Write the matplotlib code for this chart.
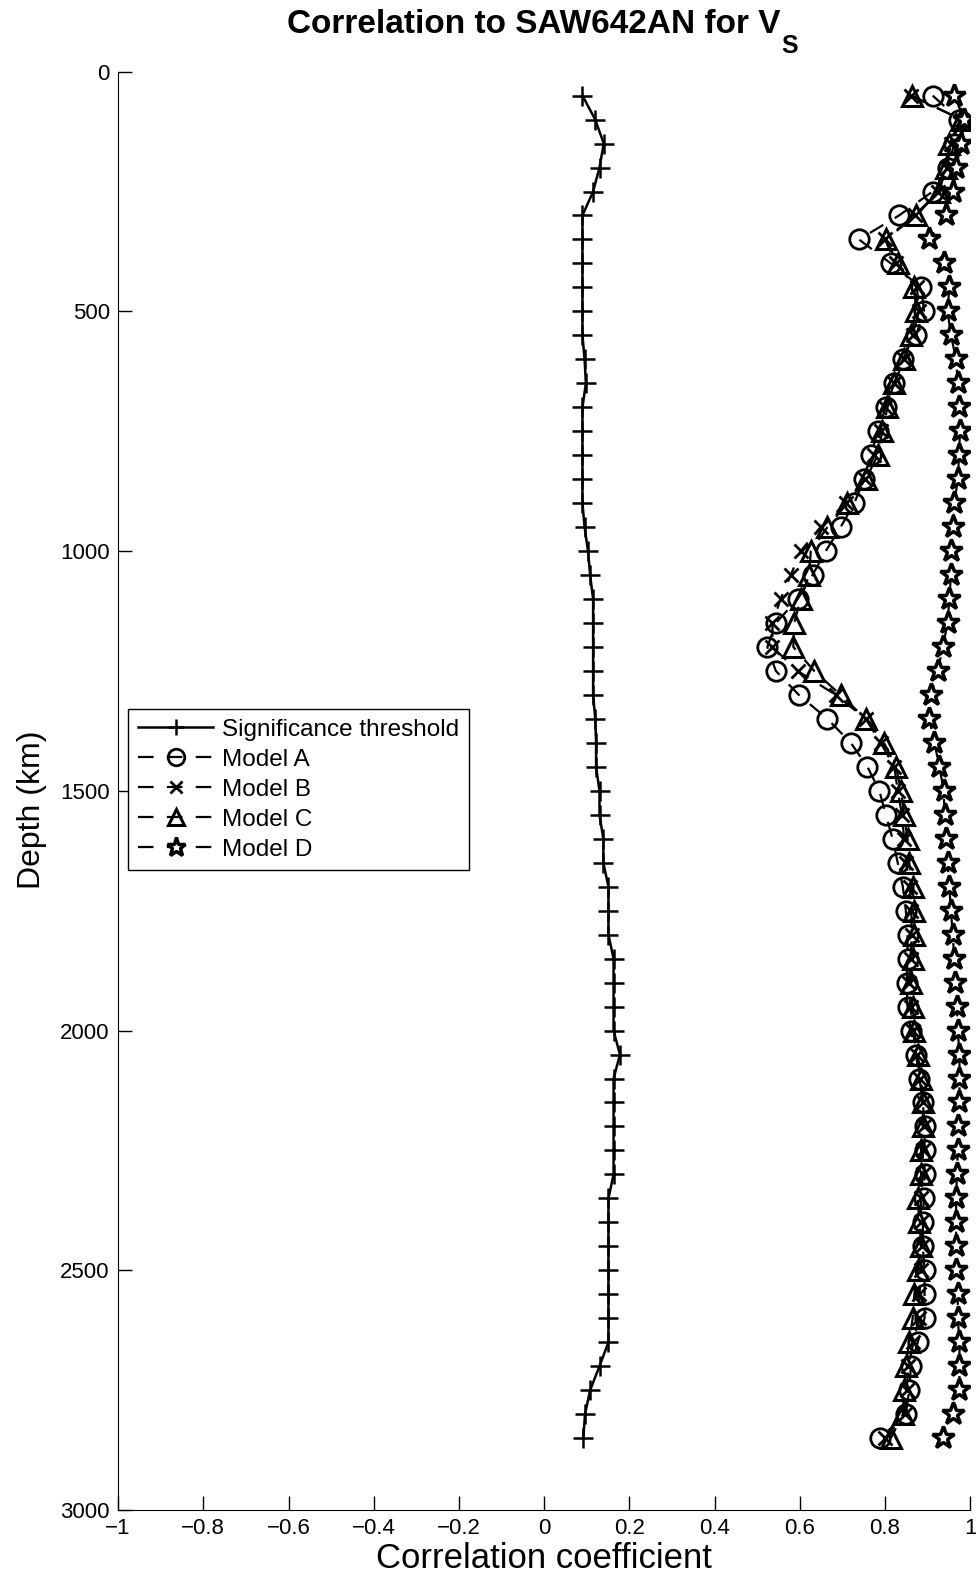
import numpy as np
import matplotlib
matplotlib.use("Agg")
import matplotlib.pyplot as plt

plt.rcParams['font.family'] = ['Liberation Sans', 'DejaVu Sans']

# depth (km) of every sample
depth = list(range(50, 2851, 50))

threshold = [0.09, 0.12, 0.14, 0.13, 0.115, 0.09, 0.09, 0.09, 0.09, 0.09,
             0.09, 0.095, 0.098, 0.09, 0.09, 0.09, 0.09, 0.09, 0.095, 0.103,
             0.108, 0.115, 0.115, 0.115, 0.115, 0.115, 0.12, 0.122, 0.122, 0.13,
             0.13, 0.139, 0.139, 0.151, 0.151, 0.151, 0.163, 0.163, 0.163, 0.163,
             0.178, 0.163, 0.163, 0.163, 0.163, 0.163, 0.151, 0.151, 0.151, 0.151,
             0.151, 0.151, 0.151, 0.13, 0.108, 0.096, 0.092]

model_a = [0.912, 0.975, 0.963, 0.947, 0.912, 0.833, 0.739, 0.814, 0.885, 0.892,
           0.873, 0.842, 0.822, 0.802, 0.783, 0.767, 0.751, 0.728, 0.696, 0.661,
           0.63, 0.595, 0.544, 0.524, 0.544, 0.598, 0.665, 0.72, 0.759, 0.787,
           0.802, 0.818, 0.83, 0.842, 0.849, 0.853, 0.853, 0.851, 0.853, 0.861,
           0.873, 0.881, 0.889, 0.893, 0.893, 0.893, 0.891, 0.889, 0.889, 0.893,
           0.893, 0.893, 0.877, 0.861, 0.857, 0.849, 0.789]

model_b = [0.86, 0.98, 0.955, 0.945, 0.925, 0.87, 0.80, 0.825, 0.875, 0.88,
           0.865, 0.845, 0.822, 0.80, 0.79, 0.775, 0.753, 0.708, 0.649, 0.602,
           0.579, 0.555, 0.536, 0.536, 0.595, 0.685, 0.755, 0.79, 0.822, 0.83,
           0.84, 0.845, 0.85, 0.858, 0.862, 0.863, 0.86, 0.857, 0.86, 0.865,
           0.875, 0.883, 0.889, 0.891, 0.889, 0.889, 0.884, 0.885, 0.887, 0.885,
           0.881, 0.879, 0.867, 0.855, 0.851, 0.846, 0.80]

model_c = [0.863, 0.979, 0.951, 0.944, 0.927, 0.873, 0.802, 0.83, 0.869, 0.873,
           0.861, 0.845, 0.822, 0.806, 0.794, 0.783, 0.755, 0.712, 0.665, 0.626,
           0.622, 0.602, 0.587, 0.585, 0.634, 0.696, 0.755, 0.798, 0.826, 0.838,
           0.845, 0.853, 0.857, 0.865, 0.869, 0.869, 0.865, 0.861, 0.865, 0.869,
           0.877, 0.885, 0.889, 0.889, 0.885, 0.885, 0.877, 0.881, 0.885, 0.877,
           0.869, 0.865, 0.857, 0.849, 0.845, 0.842, 0.814]

model_d = [0.963, 0.986, 0.979, 0.967, 0.959, 0.944, 0.904, 0.939, 0.951, 0.947,
           0.955, 0.967, 0.971, 0.974, 0.976, 0.974, 0.971, 0.963, 0.959, 0.955,
           0.955, 0.951, 0.947, 0.936, 0.924, 0.908, 0.904, 0.916, 0.928, 0.938,
           0.94, 0.944, 0.947, 0.951, 0.955, 0.959, 0.963, 0.965, 0.969, 0.971,
           0.975, 0.975, 0.975, 0.971, 0.971, 0.969, 0.967, 0.967, 0.967, 0.967,
           0.971, 0.971, 0.975, 0.975, 0.975, 0.959, 0.936]

fig = plt.figure(figsize=(9.76, 15.85), dpi=100)
ax = fig.add_axes([0.121, 0.0473, 0.873, 0.9075])

ms = 14
dash = (7, 6)
ax.plot(threshold, depth, '-', color='k', lw=1.8, marker='+', ms=ms, mew=1.8,
        label='Significance threshold')
ax.plot(model_a, depth, '--', color='k', lw=1.6, dashes=dash, marker='o',
        ms=ms, mew=2.0, mfc='none', label='Model A')
ax.plot(model_b, depth, '--', color='k', lw=1.6, dashes=dash, marker='x',
        ms=ms * 0.75, mew=2.0, label='Model B')
ax.plot(model_c, depth, '--', color='k', lw=1.6, dashes=dash, marker='^',
        ms=ms, mew=2.2, mfc='none', label='Model C')
ax.plot(model_d, depth, '--', color='k', lw=1.6, dashes=dash, marker='*',
        ms=ms * 1.2, mew=2.5, mfc='white', mec='k', label='Model D')

ax.set_xlim(-1, 1)
ax.set_ylim(3000, 0)
ax.set_xticks(np.arange(-1, 1.01, 0.2))
ax.set_xticklabels(['\u22121', '\u22120.8', '\u22120.6', '\u22120.4', '\u22120.2',
                    '0', '0.2', '0.4', '0.6', '0.8', '1'])
ax.set_yticks(range(0, 3001, 500))
ax.tick_params(direction='in', length=10, width=1, labelsize=16, pad=6)
ax.spines['top'].set_visible(False)
ax.spines['right'].set_visible(False)

ax.set_xlabel('Correlation coefficient', fontsize=25, labelpad=2)
ax.set_ylabel('Depth (km)', fontsize=23)
ax.yaxis.set_label_coords(-0.084, 0.487)

leg = ax.legend(loc='upper left', bbox_to_anchor=(0.012, 0.557), fontsize=17.5,
                frameon=True, fancybox=False, edgecolor='k', framealpha=1,
                handlelength=3.1, borderpad=0.4, labelspacing=0.33,
                handletextpad=0.35, borderaxespad=0, markerscale=0.85)
leg.get_frame().set_linewidth(1)

# title: "V" with a dropped subscript "S", as in the original
t_main = fig.text(0, 0, 'Correlation to SAW642AN for V', fontsize=24,
                  fontweight='bold', va='baseline')
t_sub = fig.text(0, 0, 'S', fontsize=18, fontweight='bold', va='top')
fig.canvas.draw()
r = fig.canvas.get_renderer()
w1 = t_main.get_window_extent(r).width
w2 = t_sub.get_window_extent(r).width
W, H = fig.bbox.width, fig.bbox.height
x0 = 542 - (w1 + w2) / 2
base = H - 33
t_main.set_position((x0 / W, base / H))
t_sub.set_position(((x0 + w1 + 1) / W, (base - 1) / H))

fig.savefig('out.png', dpi=100)
